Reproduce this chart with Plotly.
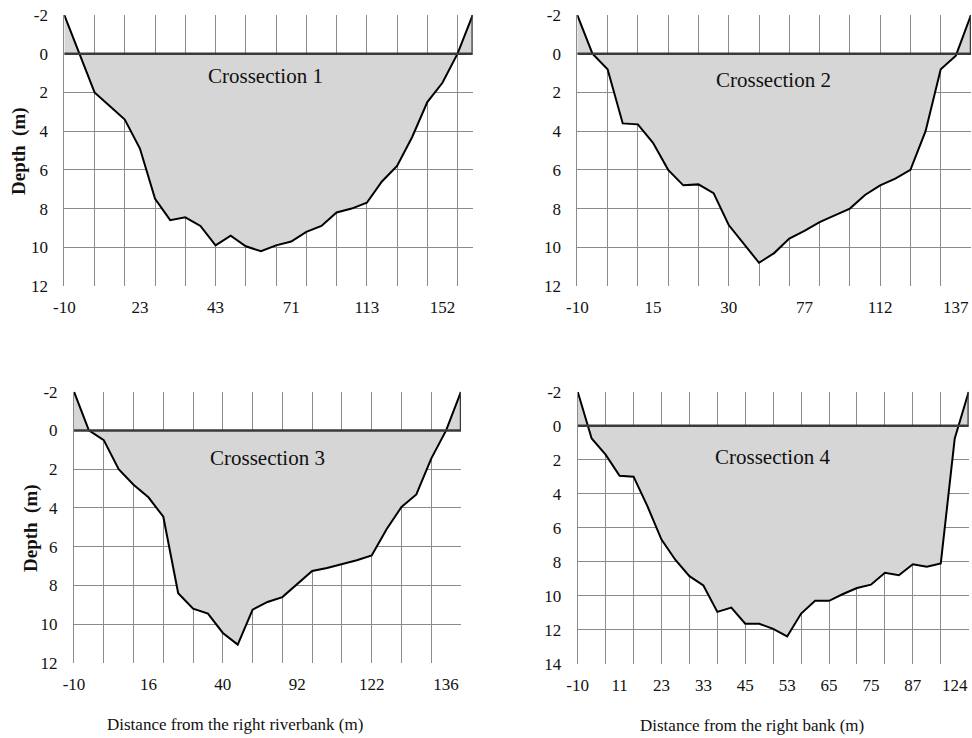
import plotly.graph_objects as go

# ---------------- data ----------------
depth1 = [-2, 0, 2.0, 2.7, 3.4, 4.9, 7.5, 8.6, 8.45, 8.9, 9.9, 9.4, 9.95, 10.2,
          9.9, 9.7, 9.2, 8.9, 8.2, 8.0, 7.7, 6.6, 5.8, 4.3, 2.5, 1.5, 0, -2]
depth2 = [-2, 0, 0.8, 3.6, 3.65, 4.6, 6.0, 6.8, 6.75, 7.2, 8.85, 9.8, 10.8, 10.3,
          9.55, 9.15, 8.7, 8.35, 8.0, 7.3, 6.8, 6.45, 6.0, 4.0, 0.8, 0.1, -2]
depth3 = [-2, 0, 0.5, 2.0, 2.8, 3.45, 4.45, 8.4, 9.2, 9.45, 10.45, 11.05, 9.25, 8.85,
          8.6, 7.9, 7.25, 7.1, 6.9, 6.7, 6.45, 5.1, 3.95, 3.3, 1.45, 0, -2]
depth4 = [-2, 0.75, 1.7, 2.95, 3.0, 4.75, 6.7, 7.9, 8.85, 9.4, 10.95, 10.7, 11.65, 11.65,
          11.95, 12.4, 11.05, 10.3, 10.3, 9.9, 9.55, 9.35, 8.65, 8.8, 8.15, 8.3, 8.1, 0.75, -2]

xlabels1 = ["-10", "23", "43", "71", "113", "152"]
xlabels2 = ["-10", "15", "30", "77", "112", "137"]
xlabels3 = ["-10", "16", "40", "92", "122", "136"]
xlabels4 = ["-10", "11", "23", "33", "45", "53", "65", "75", "87", "124"]

yticks_a = [-2, 0, 2, 4, 6, 8, 10, 12]
yticks_b = [-2, 0, 2, 4, 6, 8, 10, 12, 14]

titles = ["Crossection 1", "Crossection 2", "Crossection 3", "Crossection 4"]

# ---------------- layout helpers ----------------
W, H = 972, 738
FONT = "Liberation Serif, Times New Roman, serif"
GRID = "#8a8a8a"
FILL = "#d6d6d6"
TXT = "#111"

panels = [
    # depth, labels, label step, yticks, px domain x, px domain y (top,bottom)
    (depth1, xlabels1, 5, yticks_a, (64.3, 472.7), (15, 286)),
    (depth2, xlabels2, 5, yticks_a, (577.3, 971.0), (15, 286)),
    (depth3, xlabels3, 5, yticks_a, (74, 461), (391.7, 663)),
    (depth4, xlabels4, 3, yticks_b, (577.7, 968.7), (391.7, 663.7)),
]

fig = go.Figure()
layout = dict(width=W, height=H,
              margin=dict(l=0, r=0, t=0, b=0, pad=0, autoexpand=False),
              paper_bgcolor="white", plot_bgcolor="white", showlegend=False,
              font=dict(family=FONT, color=TXT, size=17))
annotations = []

for k, (depth, labels, step, yt, (x0, x1), (yt0, yb0)) in enumerate(panels):
    n = len(depth)
    idx = list(range(n))
    xa = "x" if k == 0 else f"x{k+1}"
    ya = "y" if k == 0 else f"y{k+1}"
    # baseline (water surface) used for the fill
    fig.add_trace(go.Scatter(x=idx, y=[0] * n, mode="lines", line=dict(width=0),
                             hoverinfo="skip", xaxis=xa, yaxis=ya))
    # bed profile filled to the water surface
    fig.add_trace(go.Scatter(x=idx, y=depth, mode="lines", fill="tonexty",
                             fillcolor=FILL, line=dict(color="black", width=2),
                             xaxis=xa, yaxis=ya))
    # water surface line with right edge closure
    fig.add_trace(go.Scatter(x=[0, n - 1, n - 1], y=[0, 0, depth[-1]], mode="lines",
                             line=dict(color="#3a3a3a", width=2.5),
                             hoverinfo="skip", xaxis=xa, yaxis=ya))

    tickpos = list(range(0, n, step))[:len(labels)]
    xkey = "xaxis" if k == 0 else f"xaxis{k+1}"
    ykey = "yaxis" if k == 0 else f"yaxis{k+1}"
    layout[xkey] = dict(domain=[x0 / W, x1 / W], anchor=ya, range=[0, n - 1],
                        automargin=False,
                        tickvals=tickpos, ticktext=labels, showgrid=False,
                        zeroline=False, showline=False,
                        ticks="outside", ticklen=6, tickcolor="rgba(0,0,0,0)",
                        tickfont=dict(family=FONT, size=17, color=TXT),
                        minor=dict(tickvals=list(range(0, n, 2)), showgrid=True,
                                   gridcolor=GRID, gridwidth=1, ticks=""))
    layout[ykey] = dict(domain=[1 - yb0 / H, 1 - yt0 / H], anchor=xa,
                        automargin=False,
                        range=[yt[-1], yt[0]], tickvals=yt,
                        ticktext=[str(v) for v in yt], showgrid=True,
                        gridcolor=GRID, gridwidth=1, zeroline=False,
                        showline=True, linecolor=GRID, linewidth=1,
                        ticks="outside", ticklen=12, tickcolor="rgba(0,0,0,0)",
                        tickfont=dict(family=FONT, size=17, color=TXT))

# panel titles
title_pos = [(265, 76), (773, 80), (267, 458), (772, 457)]
for t, (px, py) in zip(titles, title_pos):
    annotations.append(dict(text=t, x=px / W, y=1 - py / H, xref="paper", yref="paper",
                            showarrow=False, xanchor="center", yanchor="middle",
                            font=dict(family=FONT, size=21, color=TXT)))

# axis titles
for py, px in [(151, 19), (528, 31)]:
    annotations.append(dict(text="Depth  (m)", x=px / W, y=1 - py / H, xref="paper",
                            yref="paper", showarrow=False, textangle=-90,
                            xanchor="center", yanchor="middle",
                            font=dict(family=FONT, size=19, color=TXT, weight="bold")))
annotations.append(dict(text="Distance from the right riverbank (m)", x=235 / W,
                        y=1 - 724 / H, xref="paper", yref="paper", showarrow=False,
                        xanchor="center", yanchor="middle",
                        font=dict(family=FONT, size=17, color=TXT)))
annotations.append(dict(text="Distance from the right bank (m)", x=752 / W,
                        y=1 - 725 / H, xref="paper", yref="paper", showarrow=False,
                        xanchor="center", yanchor="middle",
                        font=dict(family=FONT, size=17, color=TXT)))

layout["annotations"] = annotations
fig.update_layout(**layout)
fig.write_html("out.html", config={"displayModeBar": False},
               post_script="document.body.style.margin='0';document.body.style.overflow='hidden';")
